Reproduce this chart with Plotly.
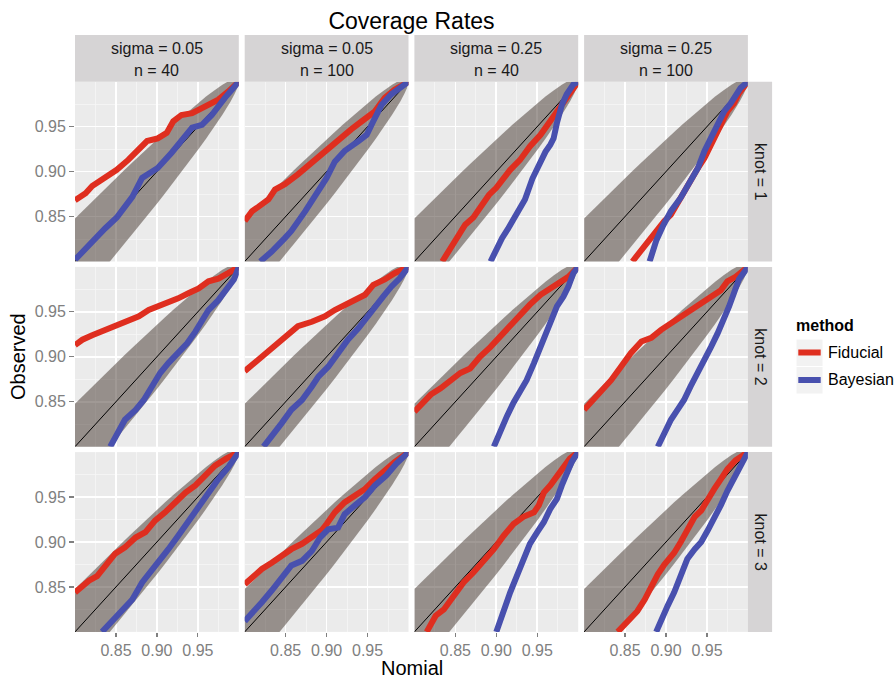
import plotly.graph_objects as go

W, H = 895, 678
FONT = "Liberation Sans, Arial, Helvetica, sans-serif"

# ---------------- categories / labels ----------------
sigma_labels = ["0.05", "0.05", "0.25", "0.25"]
n_labels = ["40", "100", "40", "100"]
knot_labels = ["1", "2", "3"]
method_labels = ["Fiducial", "Bayesian"]
tick_vals = [0.85, 0.90, 0.95]
tick_text = ["0.85", "0.90", "0.95"]
minor_vals = [0.825, 0.875, 0.925, 0.975]
axis_range = [0.80, 1.00]

# ---------------- reference band ----------------
band_nominal = [0.80, 0.81, 0.82, 0.83, 0.84, 0.85, 0.86, 0.87, 0.88, 0.89, 0.90,
                0.91, 0.92, 0.93, 0.94, 0.95, 0.96, 0.97, 0.98, 0.99, 0.995, 0.998, 1.00]
band_upper = [0.8477, 0.8568, 0.8658, 0.8748, 0.8837, 0.8926, 0.9014, 0.9101, 0.9188, 0.9273, 0.9358,
              0.9441, 0.9524, 0.9604, 0.9683, 0.9760, 0.9834, 0.9903, 0.9967, 1.0019, 1.0034, 1.0033, 1.0000]
band_lower = [0.7523, 0.7632, 0.7742, 0.7852, 0.7963, 0.8074, 0.8186, 0.8299, 0.8412, 0.8527, 0.8642,
              0.8759, 0.8876, 0.8996, 0.9117, 0.9240, 0.9366, 0.9497, 0.9633, 0.9781, 0.9866, 0.9927, 1.0000]

# ---------------- knot = 1 ----------------
fid_x_k1_c1 = [0.800, 0.813, 0.821, 0.837, 0.851, 0.865, 0.876, 0.888, 0.901, 0.912, 0.920, 0.930, 0.943, 0.951, 0.963, 0.975, 0.987, 1.000]
fid_y_k1_c1 = [0.868, 0.876, 0.884, 0.893, 0.902, 0.913, 0.924, 0.934, 0.937, 0.943, 0.956, 0.963, 0.965, 0.969, 0.974, 0.980, 0.989, 1.000]
bay_x_k1_c1 = [0.800, 0.821, 0.837, 0.851, 0.870, 0.882, 0.901, 0.918, 0.935, 0.943, 0.955, 0.967, 0.983, 1.000]
bay_y_k1_c1 = [0.802, 0.823, 0.837, 0.849, 0.872, 0.893, 0.904, 0.921, 0.939, 0.949, 0.952, 0.963, 0.982, 1.000]

fid_x_k1_c2 = [0.800, 0.809, 0.817, 0.829, 0.837, 0.849, 0.865, 0.874, 0.890, 0.900, 0.914, 0.930, 0.943, 0.950, 0.959, 0.971, 0.983, 1.000]
fid_y_k1_c2 = [0.845, 0.856, 0.861, 0.869, 0.880, 0.886, 0.897, 0.904, 0.917, 0.923, 0.934, 0.947, 0.956, 0.960, 0.967, 0.982, 0.991, 1.000]
bay_x_k1_c2 = [0.819, 0.833, 0.849, 0.857, 0.874, 0.890, 0.900, 0.910, 0.922, 0.939, 0.949, 0.957, 0.967, 0.979, 1.000]
bay_y_k1_c2 = [0.800, 0.811, 0.826, 0.834, 0.856, 0.878, 0.893, 0.911, 0.923, 0.934, 0.941, 0.956, 0.974, 0.986, 1.000]

fid_x_k1_c3 = [0.834, 0.844, 0.852, 0.862, 0.872, 0.883, 0.891, 0.900, 0.909, 0.917, 0.929, 0.941, 0.954, 0.966, 0.974, 0.980, 0.988, 1.000]
fid_y_k1_c3 = [0.800, 0.815, 0.828, 0.841, 0.849, 0.863, 0.874, 0.882, 0.893, 0.902, 0.913, 0.928, 0.941, 0.956, 0.967, 0.976, 0.986, 1.000]
bay_x_k1_c3 = [0.893, 0.900, 0.907, 0.914, 0.920, 0.926, 0.935, 0.944, 0.953, 0.960, 0.966, 0.970, 0.974, 0.980, 0.986, 0.994, 1.000]
bay_y_k1_c3 = [0.800, 0.815, 0.826, 0.836, 0.846, 0.855, 0.869, 0.892, 0.911, 0.922, 0.930, 0.937, 0.954, 0.974, 0.986, 0.997, 1.000]

fid_x_k1_c4 = [0.859, 0.870, 0.882, 0.890, 0.898, 0.906, 0.914, 0.922, 0.930, 0.939, 0.947, 0.955, 0.963, 0.969, 0.975, 0.983, 0.989, 1.000]
fid_y_k1_c4 = [0.800, 0.813, 0.826, 0.836, 0.845, 0.852, 0.865, 0.876, 0.889, 0.904, 0.915, 0.930, 0.943, 0.956, 0.967, 0.976, 0.987, 1.000]
bay_x_k1_c4 = [0.880, 0.888, 0.896, 0.906, 0.918, 0.928, 0.939, 0.947, 0.955, 0.963, 0.971, 0.979, 0.985, 0.991, 1.000]
bay_y_k1_c4 = [0.800, 0.823, 0.839, 0.856, 0.871, 0.886, 0.904, 0.923, 0.939, 0.952, 0.967, 0.976, 0.984, 0.993, 1.000]

# ---------------- knot = 2 ----------------
fid_x_k2_c1 = [0.800, 0.809, 0.821, 0.837, 0.851, 0.865, 0.878, 0.890, 0.902, 0.914, 0.926, 0.939, 0.951, 0.963, 0.975, 0.987, 1.000]
fid_y_k2_c1 = [0.913, 0.919, 0.924, 0.930, 0.936, 0.941, 0.945, 0.952, 0.956, 0.960, 0.965, 0.971, 0.976, 0.984, 0.987, 0.993, 1.000]
bay_x_k2_c1 = [0.843, 0.851, 0.861, 0.874, 0.884, 0.894, 0.904, 0.914, 0.926, 0.937, 0.947, 0.955, 0.963, 0.975, 0.985, 0.994, 1.000]
bay_y_k2_c1 = [0.800, 0.815, 0.830, 0.841, 0.852, 0.867, 0.882, 0.893, 0.904, 0.915, 0.928, 0.941, 0.952, 0.963, 0.974, 0.986, 1.000]

fid_x_k2_c2 = [0.800, 0.809, 0.817, 0.829, 0.841, 0.853, 0.865, 0.882, 0.898, 0.910, 0.922, 0.935, 0.947, 0.957, 0.971, 0.983, 1.000]
fid_y_k2_c2 = [0.884, 0.891, 0.897, 0.906, 0.915, 0.926, 0.934, 0.939, 0.945, 0.952, 0.958, 0.963, 0.969, 0.980, 0.986, 0.993, 1.000]
bay_x_k2_c2 = [0.823, 0.833, 0.845, 0.857, 0.870, 0.882, 0.890, 0.902, 0.914, 0.926, 0.939, 0.951, 0.959, 0.969, 0.979, 0.989, 1.000]
bay_y_k2_c2 = [0.800, 0.811, 0.826, 0.841, 0.852, 0.867, 0.878, 0.889, 0.904, 0.919, 0.932, 0.945, 0.956, 0.967, 0.978, 0.987, 1.000]

fid_x_k2_c3 = [0.800, 0.807, 0.820, 0.832, 0.844, 0.856, 0.868, 0.880, 0.893, 0.905, 0.917, 0.929, 0.941, 0.954, 0.966, 0.978, 0.988, 1.000]
fid_y_k2_c3 = [0.839, 0.846, 0.858, 0.865, 0.874, 0.882, 0.887, 0.900, 0.911, 0.923, 0.934, 0.947, 0.958, 0.969, 0.976, 0.982, 0.989, 1.000]
bay_x_k2_c3 = [0.897, 0.905, 0.913, 0.921, 0.929, 0.937, 0.946, 0.954, 0.960, 0.966, 0.974, 0.982, 0.988, 0.994, 1.000]
bay_y_k2_c3 = [0.800, 0.819, 0.834, 0.849, 0.860, 0.874, 0.893, 0.911, 0.924, 0.941, 0.956, 0.967, 0.978, 0.993, 1.000]

fid_x_k2_c4 = [0.800, 0.809, 0.821, 0.833, 0.845, 0.857, 0.870, 0.882, 0.894, 0.906, 0.918, 0.930, 0.943, 0.955, 0.967, 0.975, 0.985, 1.000]
fid_y_k2_c4 = [0.841, 0.850, 0.863, 0.874, 0.889, 0.904, 0.917, 0.921, 0.930, 0.937, 0.945, 0.952, 0.960, 0.967, 0.974, 0.984, 0.989, 1.000]
bay_x_k2_c4 = [0.890, 0.898, 0.906, 0.914, 0.922, 0.930, 0.939, 0.947, 0.955, 0.963, 0.971, 0.977, 0.983, 0.989, 1.000]
bay_y_k2_c4 = [0.800, 0.815, 0.830, 0.841, 0.852, 0.867, 0.882, 0.897, 0.911, 0.926, 0.941, 0.956, 0.971, 0.986, 1.000]

# ---------------- knot = 3 ----------------
fid_x_k3_c1 = [0.800, 0.809, 0.817, 0.827, 0.837, 0.849, 0.861, 0.874, 0.886, 0.898, 0.910, 0.922, 0.935, 0.947, 0.959, 0.971, 0.985, 1.000]
fid_y_k3_c1 = [0.844, 0.851, 0.857, 0.862, 0.874, 0.887, 0.894, 0.905, 0.911, 0.924, 0.933, 0.944, 0.955, 0.963, 0.974, 0.985, 0.993, 1.000]
bay_x_k3_c1 = [0.833, 0.845, 0.857, 0.870, 0.882, 0.894, 0.904, 0.914, 0.926, 0.939, 0.951, 0.963, 0.975, 0.987, 1.000]
bay_y_k3_c1 = [0.800, 0.812, 0.825, 0.836, 0.855, 0.868, 0.881, 0.892, 0.907, 0.924, 0.937, 0.955, 0.970, 0.983, 1.000]

fid_x_k3_c2 = [0.800, 0.809, 0.821, 0.833, 0.845, 0.857, 0.870, 0.882, 0.894, 0.900, 0.910, 0.922, 0.935, 0.947, 0.959, 0.971, 0.983, 1.000]
fid_y_k3_c2 = [0.853, 0.861, 0.870, 0.877, 0.885, 0.892, 0.898, 0.905, 0.913, 0.920, 0.933, 0.944, 0.952, 0.959, 0.970, 0.980, 0.989, 1.000]
bay_x_k3_c2 = [0.800, 0.809, 0.821, 0.833, 0.845, 0.857, 0.870, 0.882, 0.892, 0.902, 0.914, 0.922, 0.935, 0.947, 0.959, 0.973, 0.985, 1.000]
bay_y_k3_c2 = [0.812, 0.822, 0.833, 0.846, 0.861, 0.874, 0.879, 0.890, 0.905, 0.914, 0.916, 0.931, 0.941, 0.950, 0.963, 0.974, 0.987, 1.000]

fid_x_k3_c3 = [0.815, 0.826, 0.836, 0.848, 0.860, 0.872, 0.885, 0.897, 0.909, 0.921, 0.933, 0.946, 0.952, 0.958, 0.966, 0.974, 0.982, 0.990, 1.000]
fid_y_k3_c3 = [0.800, 0.818, 0.825, 0.840, 0.855, 0.866, 0.879, 0.892, 0.907, 0.920, 0.928, 0.933, 0.941, 0.955, 0.963, 0.972, 0.983, 0.993, 1.000]
bay_x_k3_c3 = [0.900, 0.905, 0.911, 0.917, 0.925, 0.933, 0.941, 0.950, 0.958, 0.966, 0.974, 0.980, 0.986, 0.992, 1.000]
bay_y_k3_c3 = [0.800, 0.814, 0.831, 0.844, 0.862, 0.881, 0.898, 0.911, 0.922, 0.937, 0.948, 0.963, 0.978, 0.989, 1.000]

fid_x_k3_c4 = [0.841, 0.853, 0.865, 0.874, 0.882, 0.890, 0.898, 0.910, 0.918, 0.926, 0.935, 0.943, 0.951, 0.959, 0.967, 0.975, 0.985, 1.000]
fid_y_k3_c4 = [0.800, 0.812, 0.823, 0.836, 0.851, 0.864, 0.875, 0.888, 0.900, 0.914, 0.928, 0.935, 0.948, 0.959, 0.970, 0.981, 0.991, 1.000]
bay_x_k3_c4 = [0.888, 0.894, 0.902, 0.910, 0.918, 0.926, 0.935, 0.943, 0.951, 0.959, 0.967, 0.975, 0.983, 0.991, 1.000]
bay_y_k3_c4 = [0.800, 0.814, 0.829, 0.844, 0.862, 0.881, 0.892, 0.900, 0.913, 0.926, 0.941, 0.957, 0.970, 0.985, 1.000]

panels = {
    (0, 0): (fid_x_k1_c1, fid_y_k1_c1, bay_x_k1_c1, bay_y_k1_c1),
    (0, 1): (fid_x_k1_c2, fid_y_k1_c2, bay_x_k1_c2, bay_y_k1_c2),
    (0, 2): (fid_x_k1_c3, fid_y_k1_c3, bay_x_k1_c3, bay_y_k1_c3),
    (0, 3): (fid_x_k1_c4, fid_y_k1_c4, bay_x_k1_c4, bay_y_k1_c4),
    (1, 0): (fid_x_k2_c1, fid_y_k2_c1, bay_x_k2_c1, bay_y_k2_c1),
    (1, 1): (fid_x_k2_c2, fid_y_k2_c2, bay_x_k2_c2, bay_y_k2_c2),
    (1, 2): (fid_x_k2_c3, fid_y_k2_c3, bay_x_k2_c3, bay_y_k2_c3),
    (1, 3): (fid_x_k2_c4, fid_y_k2_c4, bay_x_k2_c4, bay_y_k2_c4),
    (2, 0): (fid_x_k3_c1, fid_y_k3_c1, bay_x_k3_c1, bay_y_k3_c1),
    (2, 1): (fid_x_k3_c2, fid_y_k3_c2, bay_x_k3_c2, bay_y_k3_c2),
    (2, 2): (fid_x_k3_c3, fid_y_k3_c3, bay_x_k3_c3, bay_y_k3_c3),
    (2, 3): (fid_x_k3_c4, fid_y_k3_c4, bay_x_k3_c4, bay_y_k3_c4),
}

# ---------------- styling ----------------
RED = "#DF2E1F"
BLUE = "#4850AE"
METHOD_COLORS = [RED, BLUE]
BAND = "rgba(66,52,44,0.5)"
PANEL_BG = "#EBEBEB"
STRIP_BG = "#D6D4D5"
KEY_BG = "#F2F2F2"
TICK_GREY = "#808080"
TEXT_DARK = "#1A1A1A"
LINE_W = 6

# pixel layout
col_left = [75.0, 244.7, 414.4, 584.1]
col_w = 163.8
row_top = [81.7, 266.9, 452.1]
row_h = 179.8
strip_top = 35.0
strip_right_w = 24.2


def px_x(v):
    return v / W


def px_y(v):
    return 1 - v / H


fig = go.Figure()
layout_axes = {}

for r in range(3):
    for c in range(4):
        idx = r * 4 + c + 1
        sfx = "" if idx == 1 else str(idx)
        xa, ya = "x" + sfx, "y" + sfx
        fx, fy, bx, by = panels[(r, c)]

        band_x = band_nominal + band_nominal[::-1]
        band_y = band_upper + band_lower[::-1]
        fig.add_trace(go.Scatter(x=band_x, y=band_y, xaxis=xa, yaxis=ya, fill="toself",
                                 fillcolor=BAND, line=dict(width=0), mode="lines",
                                 showlegend=False, hoverinfo="skip"))
        fig.add_trace(go.Scatter(x=band_nominal, y=band_nominal, xaxis=xa, yaxis=ya, mode="lines",
                                 line=dict(color="black", width=1), showlegend=False, hoverinfo="skip"))
        fig.add_trace(go.Scatter(x=fx, y=fy, xaxis=xa, yaxis=ya, mode="lines",
                                 line=dict(color=RED, width=LINE_W), name=method_labels[0],
                                 showlegend=False))
        fig.add_trace(go.Scatter(x=bx, y=by, xaxis=xa, yaxis=ya, mode="lines",
                                 line=dict(color=BLUE, width=LINE_W), name=method_labels[1],
                                 showlegend=False))

        x0 = col_left[c]
        y0 = row_top[r]
        bottom = r == 2
        left = c == 0
        layout_axes["xaxis" + sfx] = dict(
            domain=[px_x(x0), px_x(x0 + col_w)], anchor=ya, range=axis_range,
            tickvals=tick_vals, ticktext=tick_text, showticklabels=bottom,
            ticks="outside" if bottom else "", ticklen=4, tickwidth=1.2, tickcolor=TICK_GREY,
            tickfont=dict(size=16, color=TICK_GREY, family=FONT),
            showgrid=True, gridcolor="white", gridwidth=1.6,
            minor=dict(tickvals=minor_vals, showgrid=True, gridcolor="#F6F6F6", gridwidth=0.8),
            zeroline=False, showline=False, fixedrange=True)
        layout_axes["yaxis" + sfx] = dict(
            domain=[px_y(y0 + row_h), px_y(y0)], anchor=xa, range=axis_range,
            tickvals=tick_vals, ticktext=tick_text, showticklabels=left,
            ticks="outside" if left else "", ticklen=5, tickwidth=1.2, tickcolor=TICK_GREY,
            tickfont=dict(size=16, color=TICK_GREY, family=FONT),
            showgrid=True, gridcolor="white", gridwidth=1.6,
            minor=dict(tickvals=minor_vals, showgrid=True, gridcolor="#F6F6F6", gridwidth=0.8),
            zeroline=False, showline=False, fixedrange=True)

shapes = []
annotations = []
# top strips
for c in range(4):
    x0 = col_left[c]
    shapes.append(dict(type="rect", xref="paper", yref="paper", x0=px_x(x0), x1=px_x(x0 + col_w),
                       y0=px_y(row_top[0]), y1=px_y(strip_top), fillcolor=STRIP_BG, line=dict(width=0)))
    annotations.append(dict(text="sigma = " + sigma_labels[c], x=px_x(x0 + col_w / 2), y=px_y(48),
                            xref="paper", yref="paper", showarrow=False, xanchor="center", yanchor="middle",
                            font=dict(size=16, color=TEXT_DARK, family=FONT)))
    annotations.append(dict(text="n = " + n_labels[c], x=px_x(x0 + col_w / 2), y=px_y(70),
                            xref="paper", yref="paper", showarrow=False, xanchor="center", yanchor="middle",
                            font=dict(size=16, color=TEXT_DARK, family=FONT)))
# right strips
xr0 = col_left[3] + col_w
for r in range(3):
    y0 = row_top[r]
    shapes.append(dict(type="rect", xref="paper", yref="paper", x0=px_x(xr0), x1=px_x(xr0 + strip_right_w),
                       y0=px_y(y0 + row_h), y1=px_y(y0), fillcolor=STRIP_BG, line=dict(width=0)))
    annotations.append(dict(text="knot = " + knot_labels[r], x=px_x(xr0 + strip_right_w / 2 + 0.5),
                            y=px_y(y0 + row_h / 2), xref="paper", yref="paper", showarrow=False,
                            textangle=90, xanchor="center", yanchor="middle",
                            font=dict(size=16, color=TEXT_DARK, family=FONT)))

# axis titles
annotations.append(dict(text="Observed", x=px_x(18), y=px_y(357), xref="paper", yref="paper",
                        showarrow=False, textangle=-90, xanchor="center", yanchor="middle",
                        font=dict(size=20, color="black", family=FONT)))
annotations.append(dict(text="Nomial", x=px_x(411.5), y=px_y(668), xref="paper", yref="paper",
                        showarrow=False, xanchor="center", yanchor="middle",
                        font=dict(size=20, color="black", family=FONT)))

# legend (ggplot-style key boxes)
annotations.append(dict(text="<b>method</b>", x=px_x(794), y=px_y(325.5), xref="paper", yref="paper",
                        showarrow=False, xanchor="left", yanchor="middle",
                        font=dict(size=16, color="black", family=FONT)))
key_tops = [339.0, 366.5]
for i, lab in enumerate(method_labels):
    kt = key_tops[i]
    shapes.append(dict(type="rect", xref="paper", yref="paper", x0=px_x(796), x1=px_x(823),
                       y0=px_y(kt + 27.5), y1=px_y(kt), fillcolor=KEY_BG, line=dict(color="white", width=1)))
    shapes.append(dict(type="line", xref="paper", yref="paper", x0=px_x(798.3), x1=px_x(820.7),
                       y0=px_y(kt + 13.5), y1=px_y(kt + 13.5), line=dict(color=METHOD_COLORS[i], width=6)))
    annotations.append(dict(text=lab, x=px_x(826), y=px_y(kt + 13.3), xref="paper", yref="paper",
                            showarrow=False, xanchor="left", yanchor="middle",
                            font=dict(size=16, color="black", family=FONT)))

fig.update_layout(
    width=W, height=H, margin=dict(l=0, r=0, t=0, b=0),
    paper_bgcolor="white", plot_bgcolor=PANEL_BG,
    title=dict(text="Coverage Rates", x=px_x(411.5), y=px_y(21), xanchor="center", yanchor="middle",
               font=dict(size=23, color="black", family=FONT)),
    shapes=shapes, annotations=annotations,
    showlegend=False,
    hovermode=False,
    **layout_axes,
)

fig.write_html("out.html",
               config={"displayModeBar": False, "staticPlot": True},
               post_script="document.body.style.margin='0';document.body.style.overflow='hidden';")
